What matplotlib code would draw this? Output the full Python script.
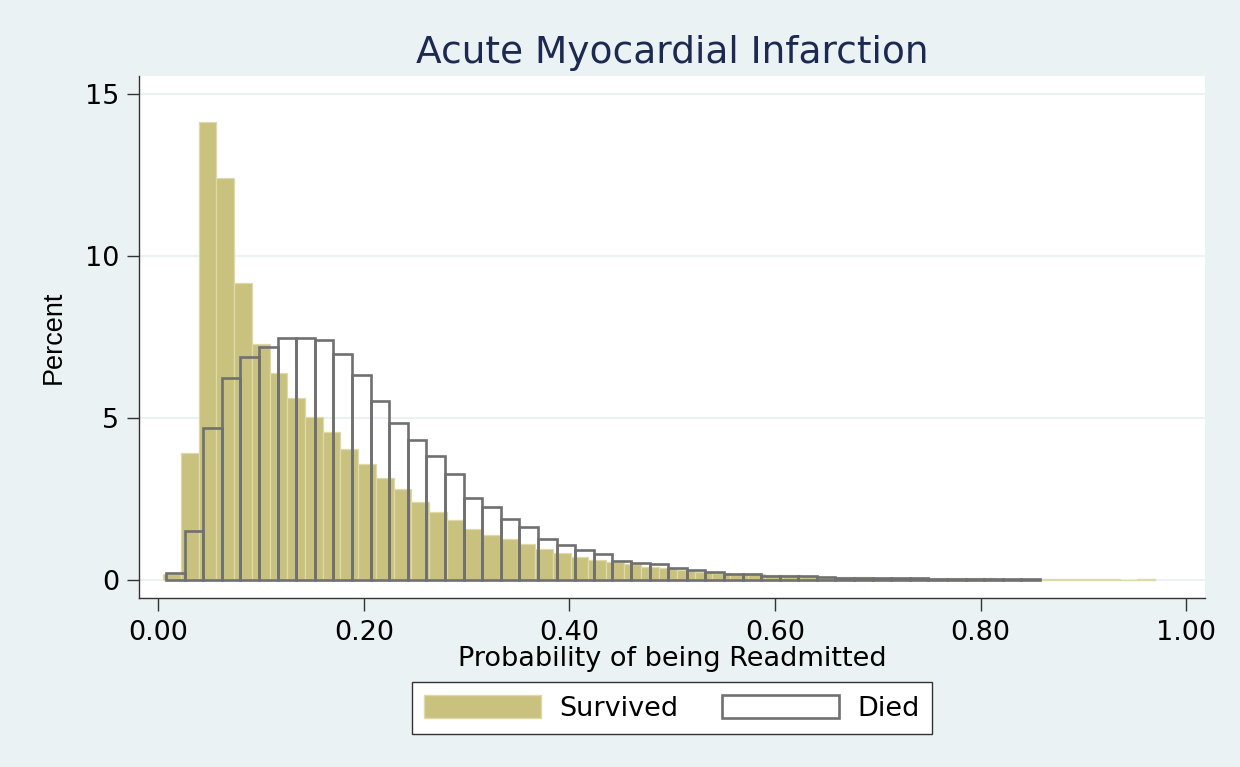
import numpy as np
import matplotlib
matplotlib.use("Agg")
import matplotlib.pyplot as plt
from matplotlib.patches import Patch

# histogram heights (percent)
survived_pct = [0.2, 3.93, 14.15, 12.4, 9.16, 7.3, 6.4, 5.63, 5.04, 4.58,
                4.03, 3.57, 3.16, 2.81, 2.42, 2.09, 1.84, 1.57, 1.38, 1.26,
                1.11, 0.95, 0.82, 0.72, 0.62, 0.55, 0.48, 0.41, 0.36, 0.31,
                0.26, 0.23, 0.2, 0.18, 0.15, 0.14, 0.12, 0.10, 0.09, 0.08,
                0.07, 0.07, 0.06, 0.06, 0.05, 0.05, 0.05, 0.04, 0.04, 0.04,
                0.04, 0.04, 0.04, 0.04, 0.0, 0.03]
survived_range = (0.005, 0.9696)

died_pct = [0.23, 1.52, 4.68, 6.25, 6.89, 7.18, 7.46, 7.46, 7.41, 6.97,
            6.32, 5.52, 4.84, 4.32, 3.83, 3.28, 2.52, 2.24, 1.88, 1.63,
            1.26, 1.08, 0.92, 0.81, 0.6, 0.53, 0.48, 0.38, 0.31, 0.25,
            0.19, 0.18, 0.13, 0.13, 0.12, 0.09, 0.07, 0.07, 0.05, 0.05,
            0.05, 0.04, 0.04, 0.04, 0.04, 0.04, 0.04]
died_range = (0.0076, 0.8578)

x_ticks = [0.0, 0.2, 0.4, 0.6, 0.8, 1.0]
y_ticks = [0, 5, 10, 15]
series_labels = ["Survived", "Died"]

BG = "#EAF2F3"
KHAKI = "#C9C27E"
KHAKI_EDGE = "#DDD9A8"
OUTLINE = "#707070"

# the source text is a horizontally stretched Arial; DejaVu's wider glyphs match it well
plt.rcParams["font.family"] = ["DejaVu Sans"]

fig = plt.figure(figsize=(12.4, 7.67), dpi=100, facecolor=BG)
ax = fig.add_axes([0.1121, 0.2203, 0.8597, 0.6806])
ax.set_facecolor("white")


def edges(rng, n):
    return np.linspace(rng[0], rng[1], n + 1)


s_edges = edges(survived_range, len(survived_pct))
d_edges = edges(died_range, len(died_pct))

ax.bar(s_edges[:-1], survived_pct, width=np.diff(s_edges), align="edge",
       color=KHAKI, edgecolor=KHAKI_EDGE, linewidth=0.9, zorder=2)
ax.bar(d_edges[:-1], died_pct, width=np.diff(d_edges), align="edge",
       fill=False, edgecolor=OUTLINE, linewidth=1.9, zorder=3)

ax.set_xlim(-0.0187, 1.0183)
ax.set_ylim(-0.556, 15.56)
ax.set_xticks(x_ticks)
ax.set_xticklabels([f"{v:.2f}" for v in x_ticks])
ax.set_yticks(y_ticks)
ax.yaxis.grid(True, color=BG, linewidth=1.5, zorder=0)
ax.set_axisbelow(True)

for side in ["top", "right"]:
    ax.spines[side].set_visible(False)
for side in ["left", "bottom"]:
    ax.spines[side].set_color("#333333")
    ax.spines[side].set_linewidth(1.0)
ax.tick_params(axis="both", length=9, width=1.0, color="#333333",
               labelsize=19.5, direction="out")
ax.tick_params(axis="x", pad=7)
ax.tick_params(axis="y", pad=5)

ax.set_title("Acute Myocardial Infarction", fontsize=27, color="#1C2A52",
             pad=9.5)
ax.set_xlabel("Probability of being Readmitted", fontsize=19.5, labelpad=0)
ax.set_ylabel("Percent", fontsize=19.5, labelpad=13,
              family=["Liberation Sans", "DejaVu Sans"])

handles = [Patch(facecolor=KHAKI, edgecolor=KHAKI_EDGE, linewidth=1.0),
           Patch(facecolor="white", edgecolor=OUTLINE, linewidth=1.9)]
leg = fig.legend(handles, series_labels, loc="center",
                 bbox_to_anchor=(0.542, 0.0769), ncol=2, fontsize=19.5,
                 frameon=True, fancybox=False, handlelength=4.3,
                 handleheight=0.95, handletextpad=0.7, columnspacing=1.6,
                 borderpad=0.45, borderaxespad=0)
leg.get_frame().set_edgecolor("#333333")
leg.get_frame().set_linewidth(1.0)
leg.get_frame().set_facecolor("white")
leg.get_frame().set_alpha(1.0)

fig.savefig("out.png", dpi=100, facecolor=BG)
